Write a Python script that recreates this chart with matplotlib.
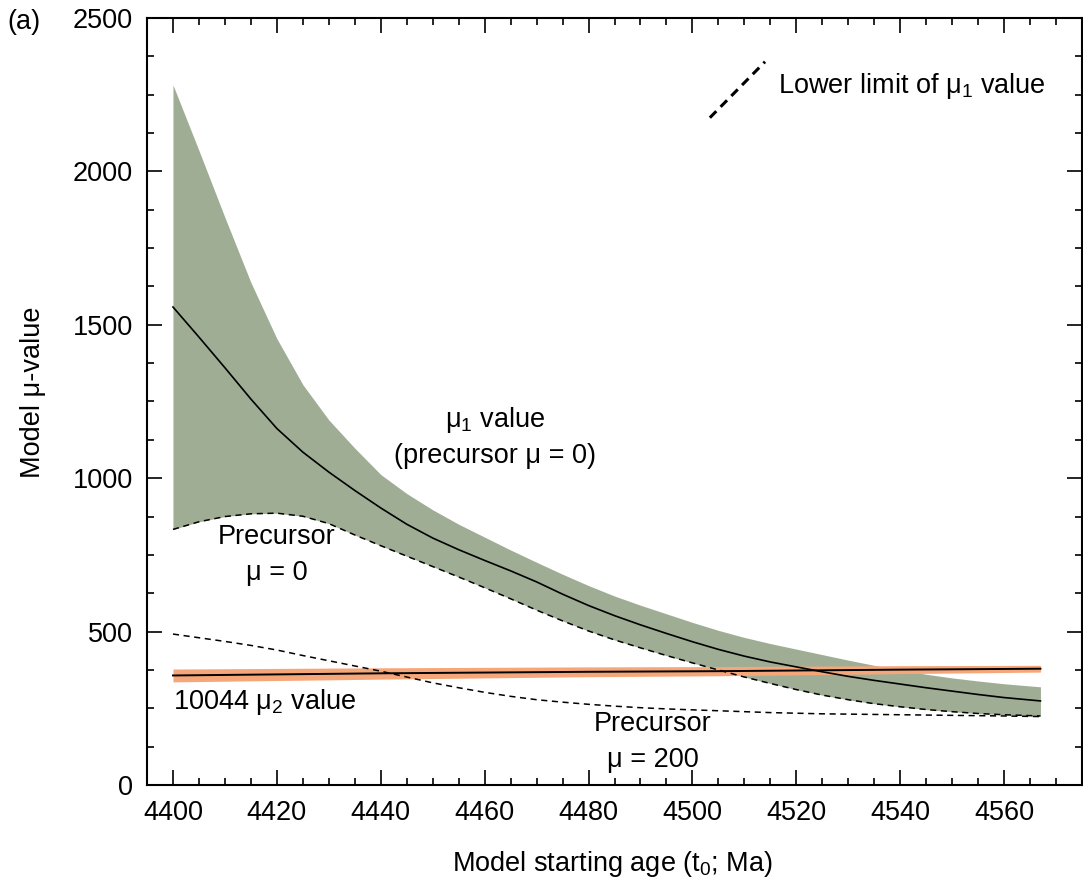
import numpy as np
import matplotlib.pyplot as plt
from matplotlib.ticker import MultipleLocator

plt.rcParams['font.family'] = ['Liberation Sans', 'DejaVu Sans']
plt.rcParams['mathtext.fontset'] = 'custom'
plt.rcParams['mathtext.rm'] = 'Liberation Sans'
plt.rcParams['mathtext.it'] = 'Liberation Sans'
plt.rcParams['font.size'] = 19.5

# model starting age (Ma)
t0 = [4400, 4405, 4410, 4415, 4420, 4425, 4430, 4435, 4440, 4445, 4450, 4455,
      4460, 4465, 4470, 4475, 4480, 4485, 4490, 4495, 4500, 4505, 4510, 4515,
      4520, 4525, 4530, 4535, 4540, 4545, 4550, 4555, 4560, 4567]

# mu1 envelope and best value (precursor mu = 0)
mu1_upper = [2282, 2068, 1850, 1638, 1455, 1305, 1190, 1098, 1012, 950, 897, 850,
             808, 766, 726, 687, 650, 616, 586, 558, 530, 504, 481, 461,
             443, 425, 407, 390, 375, 361, 349, 339, 330, 320]
mu1_best = [1558, 1460, 1360, 1258, 1162, 1085, 1020, 960, 903, 850, 805, 767,
            732, 698, 662, 622, 585, 552, 522, 494, 467, 442, 420, 401,
            385, 369, 354, 341, 329, 317, 306, 295, 285, 274]
prec0 = [833, 858, 875, 884, 886, 876, 852, 815, 780, 746, 712, 678,
         643, 607, 570, 535, 502, 473, 447, 422, 398, 375, 352, 331,
         311, 293, 278, 265, 255, 246, 239, 233, 229, 225]
prec200 = [492, 480, 468, 455, 440, 422, 405, 388, 371, 352, 333, 317,
           302, 289, 278, 270, 263, 257, 252, 248, 245, 242, 239, 236,
           234, 232, 231, 230, 229, 228, 227, 226, 225, 223]

# 10044 mu2 value with its uncertainty
t0_mu2 = [4400, 4440, 4480, 4505, 4540, 4567]
mu2 = [357, 364, 369, 371, 376, 379]
mu2_lo = [336, 345, 353, 356, 363, 368]
mu2_hi = [378, 382, 385, 386, 389, 390]

green = "#9fad94"
orange = "#f6a77a"

fig = plt.figure(figsize=(10.83, 8.88), dpi=100)
ax = fig.add_axes([147/1083, 103/888, 935/1083, 767/888])

ax.fill_between(t0, prec0, mu1_upper, color=green, lw=0, zorder=1)
ax.fill_between(t0_mu2, mu2_lo, mu2_hi, color=orange, lw=0, zorder=2)
ax.plot(t0, mu1_best, color="black", lw=1.2, zorder=4)
ax.plot(t0, prec0, color="black", lw=1.1, ls=(0, (4, 3)), zorder=4)
ax.plot(t0, prec200, color="black", lw=1.1, ls=(0, (4, 3)), zorder=4)
ax.plot(t0_mu2, mu2, color="black", lw=1.4, zorder=5)

# legend key: diagonal dashed line
ax.plot([0.602, 0.661], [0.870, 0.943], transform=ax.transAxes,
        color="black", lw=2.2, ls=(0, (3, 2)))
ax.text(4516.4, 2278, r"Lower limit of μ$_1$ value", ha="left", va="center")

ax.text(4462, 1190, r"μ$_1$ value", ha="center", va="center")
ax.text(4462, 1072, "(precursor μ = 0)", ha="center", va="center")
ax.text(4420, 807, "Precursor", ha="center", va="center")
ax.text(4420, 690, "μ = 0", ha="center", va="center")
ax.text(4400, 271, r"10044 μ$_2$ value", ha="left", va="center")
ax.text(4492.4, 199, "Precursor", ha="center", va="center")
ax.text(4492.4, 80, "μ = 200", ha="center", va="center")

fig.text(0.007, 0.975, "(a)", ha="left", va="center")

ax.set_xlim(4395, 4575)
ax.set_ylim(0, 2500)
ax.xaxis.set_major_locator(MultipleLocator(20))
ax.xaxis.set_minor_locator(MultipleLocator(5))
ax.yaxis.set_major_locator(MultipleLocator(500))
ax.yaxis.set_minor_locator(MultipleLocator(125))
ax.tick_params(which="both", direction="in", top=True, right=True, width=1.2)
ax.tick_params(which="major", length=11)
ax.tick_params(which="minor", length=5)
ax.tick_params(axis="x", pad=11)
ax.tick_params(axis="y", pad=10)
for s in ax.spines.values():
    s.set_linewidth(1.5)

ax.set_xlabel(r"Model starting age (t$_0$; Ma)")
ax.set_ylabel("Model μ-value")
ax.xaxis.set_label_coords(0.498, -0.083)
ax.yaxis.set_label_coords(-0.108, 0.512)

plt.savefig("out.png", dpi=100)
